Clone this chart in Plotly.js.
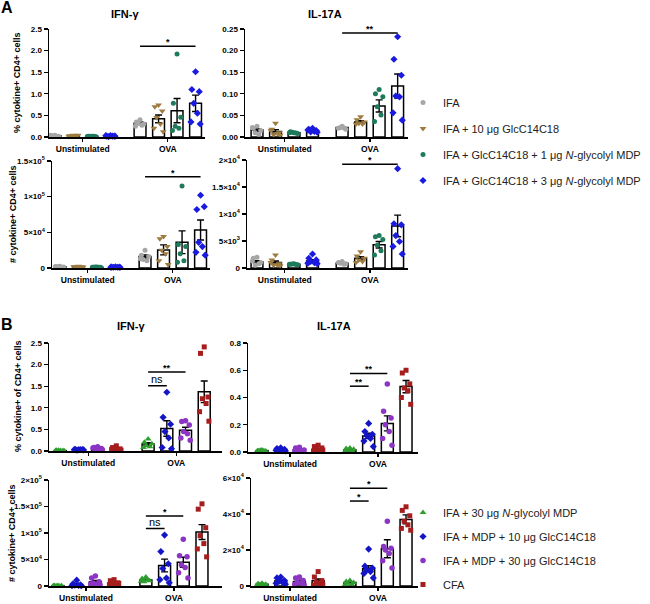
<!DOCTYPE html>
<html><head><meta charset="utf-8">
<script src="https://cdn.plot.ly/plotly-3.0.1.min.js"></script>
<style>html,body{margin:0;padding:0;background:#fff}</style>
</head><body><div id="chart" style="width:650px;height:604px"></div>
<script>
// ---------- DATA ----------
const groups = ['Unstimulated', 'OVA'];
const seriesA = ['IFA', 'IFA + 10 μg GlcC14C18', 'IFA + GlcC14C18 + 1 μg <i>N</i>-glycolyl MDP', 'IFA + GlcC14C18 + 3 μg <i>N</i>-glycolyl MDP'];
const seriesB = ['IFA + 30 μg <i>N</i>-glycolyl MDP', 'IFA + MDP + 10 μg GlcC14C18', 'IFA + MDP + 30 μg GlcC14C18', 'CFA'];

// Panel A, IFN-γ, % cytokine+ CD4+ cells  [series][group]
const aIfnPctMean = [[0.03, 0.32], [0.03, 0.42], [0.02, 0.61], [0.02, 0.78]];
const aIfnPctSem  = [[0.005, 0.03], [0.005, 0.09], [0.003, 0.28], [0.003, 0.19]];
const aIfnPctPts  = [
  [[0.04,0.03,0.02,0.03,0.02,0.04], [0.40,0.35,0.30,0.33,0.27,0.25]],
  [[0.04,0.03,0.02,0.03,0.03,0.02,0.04], [0.74,0.70,0.60,0.45,0.30,0.20,0.12]],
  [[0.02,0.02,0.01,0.02,0.02,0.01], [1.92,0.78,0.46,0.25,0.20,0.15]],
  [[0.03,0.02,0.02,0.01,0.02,0.03,0.02], [1.51,1.10,1.05,0.78,0.55,0.35,0.30]]
];
const aIfnPctSig = [[1, 0, 3, 2.1, '*']];

// Panel A, IL-17A, %
const aIl17PctMean = [[0.016, 0.022], [0.013, 0.035], [0.010, 0.072], [0.015, 0.118]];
const aIl17PctSem  = [[0.003, 0.002], [0.004, 0.003], [0.001, 0.014], [0.002, 0.028]];
const aIl17PctPts  = [
  [[0.025,0.020,0.015,0.010,0.006,0.022], [0.025,0.020,0.018,0.022,0.021]],
  [[0.032,0.018,0.010,0.005,0.008,0.015,0.004], [0.047,0.040,0.035,0.032,0.030,0.030]],
  [[0.010,0.012,0.008,0.011,0.009,0.010], [0.110,0.100,0.093,0.070,0.051,0.036]],
  [[0.020,0.018,0.015,0.012,0.013,0.016,0.011], [0.232,0.180,0.143,0.095,0.093,0.056,0.039]]
];
const aIl17PctSig = [[1, 0, 3, 0.241, '**']];

// Panel A, IFN-γ, # cells
const aIfnNumMean = [[1800, 16200], [1700, 25400], [1200, 36100], [1200, 53200]];
const aIfnNumSem  = [[200, 2200], [300, 7000], [150, 16000], [150, 14000]];
const aIfnNumPts  = [
  [[2500,2000,1500,1800,1200,2000], [25000,18000,16000,12000,10000,13000]],
  [[2500,2000,1500,1000,1800,1600,1500], [44000,41000,30000,25000,20000,10000,5000]],
  [[1500,1200,1000,1300,1100,1100], [115000,33000,30000,20000,10000,8000]],
  [[1500,1300,1200,1000,1100,1200,1100], [102000,82000,86000,36000,30000,22000,18000]]
];
const aIfnNumSig = [[1, 0, 3, 128000, '*']];

// Panel A, IL-17A, # cells
const aIl17NumMean = [[1100, 900], [1000, 1800], [700, 4300], [1300, 7800]];
const aIl17NumSem  = [[250, 100], [300, 300], [50, 600], [220, 2000]];
const aIl17NumPts  = [
  [[2000,1800,1000,500,800,1300], [1200,1000,800,900,700]],
  [[2400,1500,800,500,600,1000,400], [3000,2200,1800,1500,1200,1000]],
  [[800,700,600,750,650,700], [6000,5800,5300,4200,3200,2400]],
  [[2600,1800,1500,1200,1000,900,800], [18400,8200,8000,6000,4900,4000,2600]]
];
const aIl17NumSig = [[1, 0, 3, 19200, '*']];

// Panel B, IFN-γ, %
const bIfnPctMean = [[0.01, 0.16], [0.03, 0.52], [0.06, 0.48], [0.05, 1.37]];
const bIfnPctSem  = [[0.003, 0.03], [0.005, 0.18], [0.008, 0.07], [0.014, 0.25]];
const bIfnPctPts  = [
  [[0.01,0.02,0.01,0.015,0.005,0.01], [0.28,0.20,0.17,0.12,0.10,0.08]],
  [[0.03,0.04,0.03,0.02,0.035,0.03,0.025], [1.36,0.78,0.62,0.45,0.30,0.08,0.05]],
  [[0.10,0.08,0.06,0.05,0.04,0.07,0.03], [0.70,0.68,0.60,0.45,0.40,0.30,0.25]],
  [[0.12,0.08,0.05,0.03,0.02,0.04,0.02], [2.41,2.26,1.25,1.21,1.10,0.91,0.69]]
];
const bIfnPctSig = [[1, 0, 2, 1.83, '**'], [1, 0, 1, 1.51, 'ns']];

// Panel B, IL-17A, %
const bIl17PctMean = [[0.010, 0.017], [0.015, 0.118], [0.013, 0.21], [0.020, 0.48]];
const bIl17PctSem  = [[0.002, 0.004], [0.003, 0.02], [0.005, 0.055], [0.006, 0.045]];
const bIl17PctPts  = [
  [[0.015,0.010,0.008,0.012,0.010,0.009], [0.030,0.025,0.020,0.015,0.010,0.008]],
  [[0.030,0.025,0.020,0.015,0.010,0.012,0.008], [0.21,0.15,0.13,0.12,0.10,0.08,0.04]],
  [[0.035,0.030,0.010,0.008,0.005,0.010,0.015], [0.50,0.30,0.25,0.20,0.15,0.10,0.05]],
  [[0.050,0.040,0.030,0.020,0.010,0.005,0.015], [0.60,0.58,0.50,0.47,0.45,0.40,0.35]]
];
const bIl17PctSig = [[1, 0, 2, 0.577, '**'], [1, 0, 1, 0.483, '**']];

// Panel B, IFN-γ, # cells
const bIfnNumMean = [[600, 11500], [3000, 38700], [8000, 44800], [6000, 101800]];
const bIfnNumSem  = [[150, 1400], [1400, 12000], [2400, 9500], [1500, 14000]];
const bIfnNumPts  = [
  [[1000,800,500,300,200,600], [17000,14000,10000,8000,12000,9000]],
  [[11000,4000,2000,1500,1000,800,500], [96000,65000,42000,33000,15000,12000,6000]],
  [[19000,15000,8000,5000,3000,4000,2000], [88000,57000,55000,40000,35000,25000,15000]],
  [[12000,10000,6000,4000,3000,2000,5000], [155000,145000,110000,95000,80000,70000,55000]]
];
const bIfnNumSig = [[1, 0, 2, 132000, '*'], [1, 0, 1, 108500, 'ns']];

// Panel B, IL-17A, # cells
const bIl17NumMean = [[1000, 2000], [2800, 9600], [2500, 20700], [2900, 37000]];
const bIl17NumSem  = [[150, 350], [600, 1700], [700, 5000], [1000, 2500]];
const bIl17NumPts  = [
  [[1500,1200,1000,800,700,900], [3000,2500,2000,1500,1000,800]],
  [[5000,4500,3000,2500,2000,1500,1000], [20500,11000,10000,9000,8000,7000,4500]],
  [[5000,4500,3000,2000,1500,1000,500], [36000,22000,21000,20000,18000,14000,10000]],
  [[8000,5000,3000,2000,1000,500,800], [44000,42000,39000,36000,34000,32000,31000]]
];
const bIl17NumSig = [[1, 0, 2, 54300, '*'], [1, 0, 1, 47200, '*']];

// Tick labels
const pct25Vals = [0, 0.5, 1, 1.5, 2, 2.5];
const pct25Text = ['0.0', '0.5', '1.0', '1.5', '2.0', '2.5'];
const pct025Vals = [0, 0.05, 0.1, 0.15, 0.2, 0.25];
const pct025Text = ['0.00', '0.05', '0.10', '0.15', '0.20', '0.25'];
const pct08Vals = [0, 0.2, 0.4, 0.6, 0.8];
const pct08Text = ['0.0', '0.2', '0.4', '0.6', '0.8'];
const aIfnNumVals = [0, 50000, 100000, 150000];
const aIfnNumText = ['0', '5×10<sup>4</sup>', '1×10<sup>5</sup>', '1.5×10<sup>5</sup>'];
const aIl17NumVals = [0, 5000, 10000, 15000, 20000];
const aIl17NumText = ['0', '5×10<sup>3</sup>', '1×10<sup>4</sup>', '1.5×10<sup>4</sup>', '2×10<sup>4</sup>'];
const bIfnNumVals = [0, 50000, 100000, 150000, 200000];
const bIfnNumText = ['0', '5×10<sup>4</sup>', '1×10<sup>5</sup>', '1.5×10<sup>5</sup>', '2×10<sup>5</sup>'];
const bIl17NumVals = [0, 20000, 40000, 60000];
const bIl17NumText = ['0', '2×10<sup>4</sup>', '4×10<sup>4</sup>', '6×10<sup>4</sup>'];

// ---------- STYLE / LAYOUT ----------
const FONT = 'Liberation Sans, Arial, Helvetica, sans-serif';
const W = 650, H = 604;
const styleA = {colors: ['#a6a6a6', '#9e7b3f', '#1e7a5c', '#1a1ae0'], symbols: ['circle', 'triangle-down', 'circle', 'diamond'], sizes: [5, 6, 5, 5.5], gap: 4.6};
const styleB = {colors: ['#2e9e2e', '#1515c8', '#8c35c4', '#a51d1d'], symbols: ['triangle-up', 'diamond', 'circle', 'square'], sizes: [6, 5.5, 5.5, 5], gap: 4.7};
const JIT = [0, -0.2, 0.2, -0.1, 0.1, -0.25, 0.25, 0.05];

const panels = [
  {mean: aIfnPctMean, sem: aIfnPctSem, pts: aIfnPctPts, sig: aIfnPctSig, st: styleA, leg: 'legend', box: [49, 205, 29, 137], xr: [-1.82, 6.61], yr: [0, 2.5], tv: pct25Vals, tt: pct25Text},
  {mean: aIl17PctMean, sem: aIl17PctSem, pts: aIl17PctPts, sig: aIl17PctSig, st: styleA, box: [245, 408, 29, 137], xr: [-2.15, 6.66], yr: [0, 0.25], tv: pct025Vals, tt: pct025Text},
  {mean: aIfnNumMean, sem: aIfnNumSem, pts: aIfnNumPts, sig: aIfnNumSig, st: styleA, box: [52, 210, 161, 268], xr: [-1.93, 6.61], yr: [0, 150000], tv: aIfnNumVals, tt: aIfnNumText},
  {mean: aIl17NumMean, sem: aIl17NumSem, pts: aIl17NumPts, sig: aIl17NumSig, st: styleA, box: [247, 408, 160, 268], xr: [-2.04, 6.66], yr: [0, 20000], tv: aIl17NumVals, tt: aIl17NumText},
  {mean: bIfnPctMean, sem: bIfnPctSem, pts: bIfnPctPts, sig: bIfnPctSig, st: styleB, leg: 'legend2', box: [49, 222, 343, 451], xr: [-2.1, 7.15], yr: [0, 2.5], tv: pct25Vals, tt: pct25Text},
  {mean: bIl17PctMean, sem: bIl17PctSem, pts: bIl17PctPts, sig: bIl17PctSig, st: styleB, box: [248, 418, 343, 452], xr: [-2.25, 6.84], yr: [0, 0.8], tv: pct08Vals, tt: pct08Text},
  {mean: bIfnNumMean, sem: bIfnNumSem, pts: bIfnNumPts, sig: bIfnNumSig, st: styleB, box: [49, 222, 480, 586], xr: [-1.98, 7.27], yr: [0, 200000], tv: bIfnNumVals, tt: bIfnNumText},
  {mean: bIl17NumMean, sem: bIl17NumSem, pts: bIl17NumPts, sig: bIl17NumSig, st: styleB, box: [251, 418, 478, 586], xr: [-2.09, 6.84], yr: [0, 60000], tv: bIl17NumVals, tt: bIl17NumText}
];

const traces = [], shapes = [], annotations = [];
const legFont = {family: FONT, size: 11, color: '#222'};
const layout = {
  width: W, height: H, margin: {l: 0, r: 0, t: 0, b: 0},
  paper_bgcolor: '#fff', plot_bgcolor: 'rgba(0,0,0,0)',
  barmode: 'overlay', showlegend: true,
  font: {family: FONT, color: '#000'},
  legend: {x: 403 / W, xanchor: 'left', y: 1 - 88 / H, yanchor: 'top', font: legFont, tracegroupgap: 7, bgcolor: 'rgba(0,0,0,0)', traceorder: 'grouped'},
  legend2: {x: 403 / W, xanchor: 'left', y: 1 - 498 / H, yanchor: 'top', font: legFont, tracegroupgap: 5, bgcolor: 'rgba(0,0,0,0)', traceorder: 'grouped'}
};

panels.forEach((p, idx) => {
  const k = idx + 1;
  const xs = k === 1 ? 'x' : 'x' + k, ys = k === 1 ? 'y' : 'y' + k;
  const xk = k === 1 ? 'xaxis' : 'xaxis' + k, yk = k === 1 ? 'yaxis' : 'yaxis' + k;
  const gap = p.st.gap;
  const pos = (g, s) => g * gap + (s - 1.5);
  const [pl, pr, pt, pb] = p.box;
  layout[xk] = {
    domain: [pl / W, pr / W], range: p.xr, anchor: ys, fixedrange: true,
    tickmode: 'array', tickvals: groups.map((_, g) => g * gap), ticktext: groups,
    ticks: 'outside', ticklen: 3, tickwidth: 1.3, tickcolor: '#000',
    showline: true, linecolor: '#000', linewidth: 1.5, showgrid: false, zeroline: false,
    tickfont: {family: FONT, size: 8.5, weight: 'bold', color: '#000'}
  };
  layout[yk] = {
    domain: [1 - pb / H, 1 - pt / H], range: p.yr, anchor: xs, fixedrange: true,
    tickmode: 'array', tickvals: p.tv, ticktext: p.tt,
    ticks: 'outside', ticklen: 4, tickwidth: 1.3, tickcolor: '#000',
    showline: true, linecolor: '#000', linewidth: 1.5, showgrid: false, zeroline: false,
    tickfont: {family: FONT, size: 8, weight: 'bold', color: '#000'}
  };
  const names = p.st === styleA ? seriesA : seriesB;
  for (let s = 0; s < 4; s++) {
    traces.push({
      type: 'bar', xaxis: xs, yaxis: ys, x: groups.map((_, g) => pos(g, s)), y: p.mean[s],
      width: 0.64, marker: {color: '#fff', line: {color: '#000', width: 1.5}},
      error_y: {type: 'data', array: p.sem[s], visible: true, color: '#000', thickness: 1.4, width: 3.5},
      showlegend: false, hoverinfo: 'skip'
    });
  }
  for (let s = 0; s < 4; s++) {
    const x = [], y = [];
    p.pts[s].forEach((arr, g) => arr.forEach((v, i) => { x.push(pos(g, s) + JIT[i % JIT.length]); y.push(v); }));
    const t = {
      type: 'scatter', mode: 'markers', xaxis: xs, yaxis: ys, x, y, name: names[s],
      marker: {symbol: p.st.symbols[s], size: p.st.sizes[s], color: p.st.colors[s], line: {width: 0}},
      cliponaxis: false, hoverinfo: 'skip',
      legendgroup: (p.st === styleA ? 'A' : 'B') + s,
      showlegend: !!p.leg
    };
    if (p.leg) t.legend = p.leg;
    traces.push(t);
  }
  p.sig.forEach(([g, s0, s1, yv, lab]) => {
    shapes.push({type: 'line', xref: xs, yref: ys, x0: pos(g, s0), x1: pos(g, s1), y0: yv, y1: yv, line: {color: '#000', width: 1.5}});
    const ns = lab === 'ns';
    annotations.push({xref: xs, yref: ys, x: (pos(g, s0) + pos(g, s1)) / 2, y: yv, text: lab, showarrow: false,
      yanchor: 'bottom', yshift: ns ? -1 : -3,
      font: {family: FONT, size: ns ? 11 : 9, weight: ns ? 'normal' : 'bold', color: '#000'}});
  });
});

// Titles, panel letters, y-axis titles
const txt = (x, y, text, size, opts = {}) => annotations.push(Object.assign({
  xref: 'paper', yref: 'paper', x: x / W, y: 1 - y / H, text, showarrow: false,
  xanchor: 'center', yanchor: 'middle',
  font: {family: FONT, size, weight: 'bold', color: '#000'}}, opts));
txt(7, 8, 'A', 16);
txt(7, 324, 'B', 16);
txt(125, 14, 'IFN-γ', 11);
txt(325, 14, 'IL-17A', 11);
txt(131, 326, 'IFN-γ', 11);
txt(334, 326, 'IL-17A', 11);
txt(17, 83, '% cytokine+ CD4+ cells', 9, {textangle: -90});
txt(13, 214, '# cytokine+ CD4+ cells', 9, {textangle: -90});
txt(18, 396, '% cytokine+ of CD4+ cells', 9, {textangle: -90});
txt(12, 533, '# cytokine+ CD4+ cells', 9, {textangle: -90});

layout.shapes = shapes;
layout.annotations = annotations;

Plotly.newPlot('chart', traces, layout, {displayModeBar: false, staticPlot: true});
</script>
</body></html>
